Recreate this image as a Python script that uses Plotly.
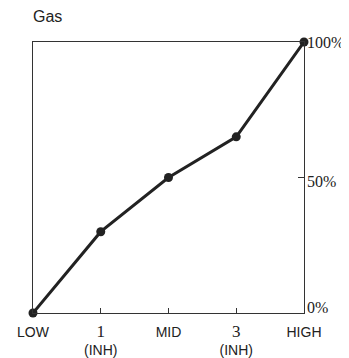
import plotly.graph_objects as go

categories = ["LOW", "1", "MID", "3", "HIGH"]
x_pos = [0, 1, 2, 3, 4]
values = [0, 30, 50, 65, 100]
x_tick_labels = [
    "LOW",
    "<span style='font-family:Liberation Serif;font-size:17px'>1</span><br>(INH)",
    "MID",
    "<span style='font-family:Liberation Serif;font-size:17px'>3</span><br>(INH)",
    "HIGH",
]
y_tick_vals = [0, 50, 100]
y_tick_labels = ["0%", "50%", "100%"]
y_label_shift = [6, -4, 0]

fig = go.Figure()
fig.add_trace(go.Scatter(
    x=x_pos, y=values, mode="lines+markers",
    line=dict(color="#222222", width=3),
    marker=dict(color="#222222", size=9),
    cliponaxis=False, showlegend=False,
))

for v, t, s in zip(y_tick_vals, y_tick_labels, y_label_shift):
    fig.add_annotation(x=1, xref="paper", y=v, yref="y", text=t, showarrow=False,
                       xanchor="left", yanchor="middle", xshift=1, yshift=s,
                       font=dict(family="Liberation Serif, serif", size=16, color="#222"))

fig.add_annotation(x=0, xref="paper", y=1, yref="paper", text="Gas", showarrow=False,
                   xanchor="left", yanchor="middle", xshift=-2, yshift=26,
                   font=dict(family="Liberation Sans, Arial", size=16, color="#222"))

fig.update_layout(
    width=341, height=350,
    margin=dict(l=25, r=45, t=34, b=45, autoexpand=False),
    plot_bgcolor="white", paper_bgcolor="white",
    xaxis=dict(
        range=[0, 4], tickmode="array", tickvals=x_pos, ticktext=x_tick_labels,
        showgrid=False, zeroline=False, showline=True, linecolor="#333", linewidth=1,
        mirror=True, ticks="inside", ticklen=5, tickcolor="#333", automargin=False,
        ticklabelstandoff=6,
        tickfont=dict(family="Liberation Sans, Arial", size=14, color="#222"),
        fixedrange=True,
    ),
    yaxis=dict(
        range=[0, 100], side="right", tickmode="array", tickvals=y_tick_vals,
        showticklabels=False, automargin=False,
        showgrid=False, zeroline=False, showline=True, linecolor="#333", linewidth=1,
        mirror=True, ticks="inside", ticklen=6, tickcolor="#333",
        fixedrange=True,
    ),
)

fig.write_html("out.html")
